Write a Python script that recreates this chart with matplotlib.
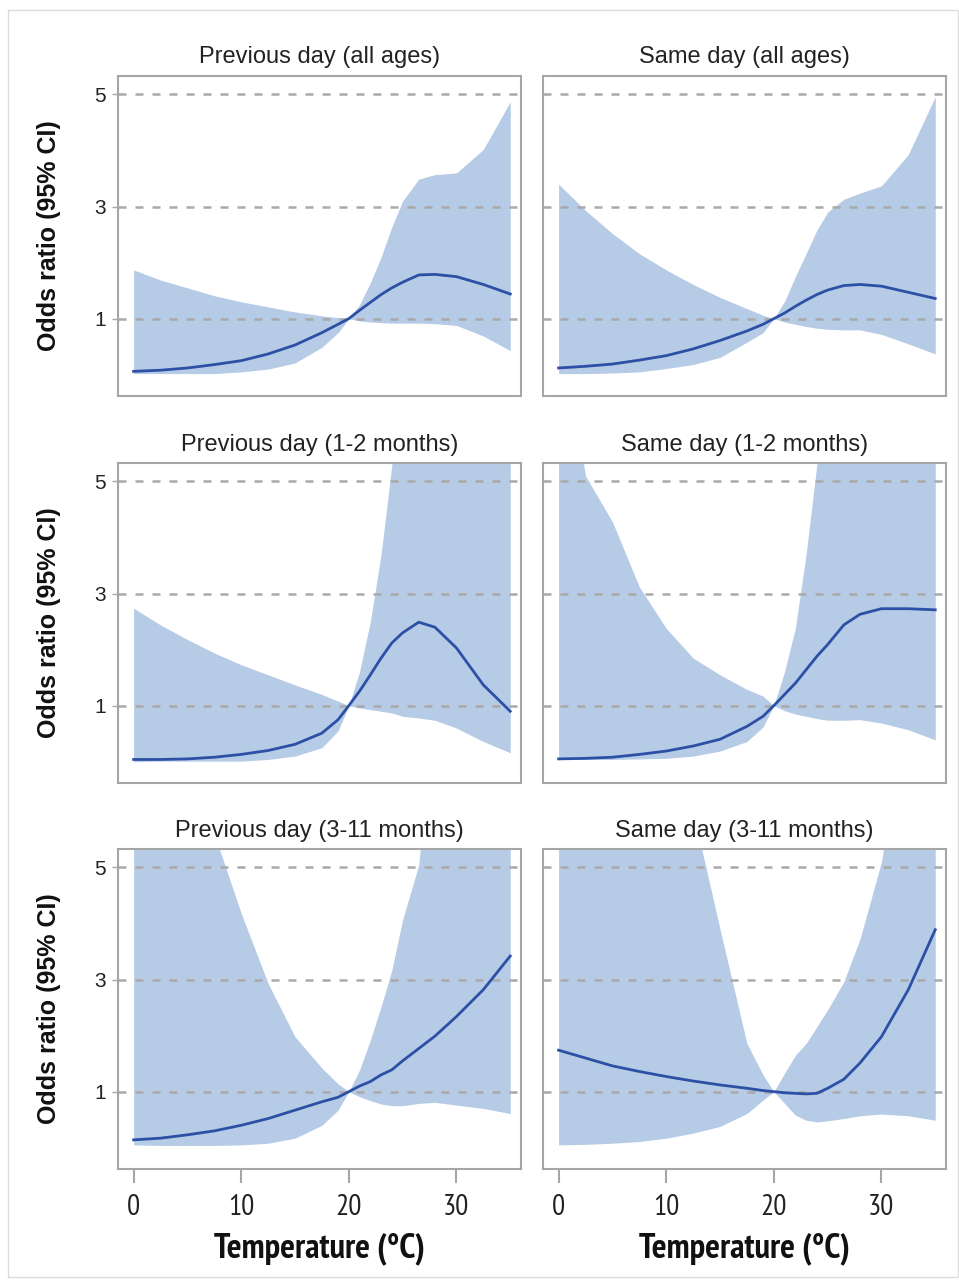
import matplotlib
matplotlib.use("Agg")
import matplotlib.pyplot as plt
from matplotlib import font_manager
from matplotlib.patches import Rectangle

temp = [0, 2.5, 5, 7.5, 10, 12.5, 15, 17.5, 19, 20, 21, 22, 23, 24, 25, 26.5, 28, 30, 32.5, 35]

titles = ["Previous day (all ages)", "Same day (all ages)",
          "Previous day (1-2 months)", "Same day (1-2 months)",
          "Previous day (3-11 months)", "Same day (3-11 months)"]

# odds ratio estimates
or_prev_all = [0.06, 0.08, 0.12, 0.18, 0.25, 0.37, 0.53, 0.75, 0.90, 1.0, 1.15, 1.29, 1.43, 1.55, 1.65, 1.78, 1.79, 1.75, 1.61, 1.44]
or_same_all = [0.12, 0.15, 0.19, 0.26, 0.34, 0.46, 0.61, 0.78, 0.90, 1.0, 1.10, 1.22, 1.33, 1.43, 1.51, 1.59, 1.61, 1.58, 1.47, 1.36]
or_prev_12m = [0.04, 0.04, 0.05, 0.08, 0.13, 0.20, 0.31, 0.51, 0.75, 1.0, 1.26, 1.55, 1.85, 2.12, 2.30, 2.49, 2.40, 2.03, 1.37, 0.90]
or_same_12m = [0.05, 0.06, 0.08, 0.13, 0.19, 0.28, 0.40, 0.63, 0.81, 1.0, 1.20, 1.40, 1.64, 1.88, 2.09, 2.44, 2.63, 2.73, 2.73, 2.71]
or_prev_311m = [0.14, 0.17, 0.23, 0.30, 0.40, 0.52, 0.67, 0.82, 0.90, 1.0, 1.10, 1.18, 1.30, 1.39, 1.55, 1.77, 1.99, 2.34, 2.82, 3.42]
or_same_311m = [1.74, 1.60, 1.46, 1.36, 1.27, 1.19, 1.12, 1.06, 1.02, 1.0, 0.98, 0.97, 0.96, 0.97, 1.06, 1.22, 1.51, 1.98, 2.82, 3.89]

# upper 95% CI
hi_prev_all = [1.87, 1.69, 1.55, 1.41, 1.30, 1.21, 1.12, 1.05, 1.02, 1.0, 1.25, 1.64, 2.10, 2.64, 3.10, 3.49, 3.57, 3.60, 4.02, 4.87]
hi_same_all = [3.40, 2.93, 2.52, 2.16, 1.87, 1.61, 1.38, 1.18, 1.06, 1.0, 1.31, 1.75, 2.16, 2.58, 2.90, 3.13, 3.24, 3.37, 3.93, 4.96]
hi_prev_12m = [2.74, 2.44, 2.18, 1.94, 1.73, 1.55, 1.37, 1.20, 1.08, 1.0, 1.61, 2.50, 3.70, 5.30, 8.0, 8.0, 8.0, 8.0, 8.0, 8.0]
hi_same_12m = [8.0, 5.10, 4.28, 3.12, 2.38, 1.85, 1.55, 1.29, 1.17, 1.0, 1.61, 2.38, 3.70, 5.30, 8.0, 8.0, 8.0, 8.0, 8.0, 8.0]
hi_prev_311m = [8.0, 8.0, 8.0, 5.60, 4.18, 2.93, 1.98, 1.42, 1.14, 1.0, 1.39, 1.92, 2.52, 3.17, 4.07, 5.05, 8.0, 8.0, 8.0, 8.0]
hi_same_311m = [8.0, 8.0, 8.0, 8.0, 8.0, 6.0, 3.90, 1.86, 1.30, 1.0, 1.33, 1.65, 1.86, 2.16, 2.46, 2.96, 3.72, 5.10, 8.0, 8.0]

# lower 95% CI
lo_prev_all = [0.02, 0.02, 0.02, 0.02, 0.05, 0.10, 0.21, 0.49, 0.75, 1.0, 0.96, 0.94, 0.93, 0.92, 0.92, 0.92, 0.91, 0.88, 0.69, 0.43]
lo_same_all = [0.02, 0.02, 0.03, 0.05, 0.11, 0.18, 0.31, 0.58, 0.75, 1.0, 0.94, 0.90, 0.86, 0.83, 0.81, 0.80, 0.80, 0.72, 0.55, 0.37]
lo_prev_12m = [0.0, 0.01, 0.01, 0.01, 0.01, 0.04, 0.10, 0.25, 0.55, 1.0, 0.96, 0.93, 0.90, 0.87, 0.81, 0.78, 0.74, 0.60, 0.36, 0.16]
lo_same_12m = [0.04, 0.04, 0.04, 0.05, 0.06, 0.10, 0.19, 0.36, 0.62, 1.0, 0.91, 0.85, 0.81, 0.77, 0.74, 0.74, 0.75, 0.69, 0.57, 0.39]
lo_prev_311m = [0.05, 0.04, 0.04, 0.04, 0.05, 0.08, 0.17, 0.40, 0.67, 1.0, 0.91, 0.84, 0.78, 0.75, 0.75, 0.79, 0.81, 0.76, 0.70, 0.61]
lo_same_311m = [0.05, 0.06, 0.08, 0.11, 0.17, 0.26, 0.38, 0.61, 0.85, 1.0, 0.79, 0.58, 0.49, 0.46, 0.48, 0.52, 0.57, 0.60, 0.57, 0.49]

estimates = [or_prev_all, or_same_all, or_prev_12m, or_same_12m, or_prev_311m, or_same_311m]
uppers = [hi_prev_all, hi_same_all, hi_prev_12m, hi_same_12m, hi_prev_311m, hi_same_311m]
lowers = [lo_prev_all, lo_same_all, lo_prev_12m, lo_same_12m, lo_prev_311m, lo_same_311m]

yticks = [1, 3, 5]
xticks = [0, 10, 20, 30]

installed = {f.name for f in font_manager.fontManager.ttflist}


def pick(names, default):
    for n in names:
        if n in installed:
            return n
    return default


main_font = pick(["Liberation Sans", "Arial"], "DejaVu Sans")
narrow_font = pick(["Liberation Sans Narrow", "Arial Narrow", "PT Sans Narrow",
                    "Roboto Condensed", "Archivo Narrow"], main_font)

plt.rcParams["font.family"] = [main_font, "DejaVu Sans"]

fill_col = "#b6cbe5"
line_col = "#2c50a5"
frame_col = "#a6a6a6"
grid_col = "#a9a9a9"

fig = plt.figure(figsize=(9.59, 12.81), dpi=100)
W, H = 959, 1281

# light border round the whole graphic
fig.patches.append(Rectangle((8 / W, 4 / H), 950 / W, 1267 / H, transform=fig.transFigure,
                             fill=False, edgecolor="#dcdcdc", linewidth=1.0))

col_left = [118, 543]
row_top = [76, 463, 849]
ax_w, ax_h = 403, 320

for i in range(6):
    r, c = divmod(i, 2)
    left = col_left[c] / W
    bottom = 1 - (row_top[r] + ax_h) / H
    ax = fig.add_axes([left, bottom, ax_w / W, ax_h / H])

    ax.fill_between(temp, lowers[i], uppers[i], color=fill_col, linewidth=0, zorder=1)
    for yv in yticks:
        ax.axhline(yv, color=grid_col, linewidth=1.8, linestyle=(0, (3.2, 3.6)), zorder=2)
    ax.plot(temp, estimates[i], color=line_col, linewidth=2.0, zorder=3)

    ax.set_xlim(-1.45, 36.0)
    ax.set_ylim(-0.38, 5.33)
    ax.set_title(titles[i], fontsize=17, pad=9, color="#222222")

    for sp in ax.spines.values():
        sp.set_color(frame_col)
        sp.set_linewidth(1.5)

    ax.set_yticks(yticks)
    if c == 0:
        ax.tick_params(axis="y", length=4, width=1, color=frame_col, pad=5,
                       labelsize=15, labelcolor="#222222")
        ax.set_ylabel("Odds ratio (95% CI)", fontsize=18, fontweight="bold",
                      labelpad=24, color="#111111")
    else:
        ax.tick_params(axis="y", length=0, labelleft=False)

    ax.set_xticks(xticks)
    if r == 2:
        ax.tick_params(axis="x", length=10, width=1.5, color=frame_col, pad=8,
                       direction="out", labelsize=21, labelcolor="#222222")
        for lab in ax.get_xticklabels():
            lab.set_fontfamily([narrow_font, "DejaVu Sans"])
        ax.set_xlabel("Temperature (\u00b0C)", fontsize=25, fontweight="bold",
                      family=[narrow_font, "DejaVu Sans"], labelpad=8, color="#111111")
    else:
        ax.tick_params(axis="x", length=0, labelbottom=False)

fig.savefig("out.png", dpi=100)
